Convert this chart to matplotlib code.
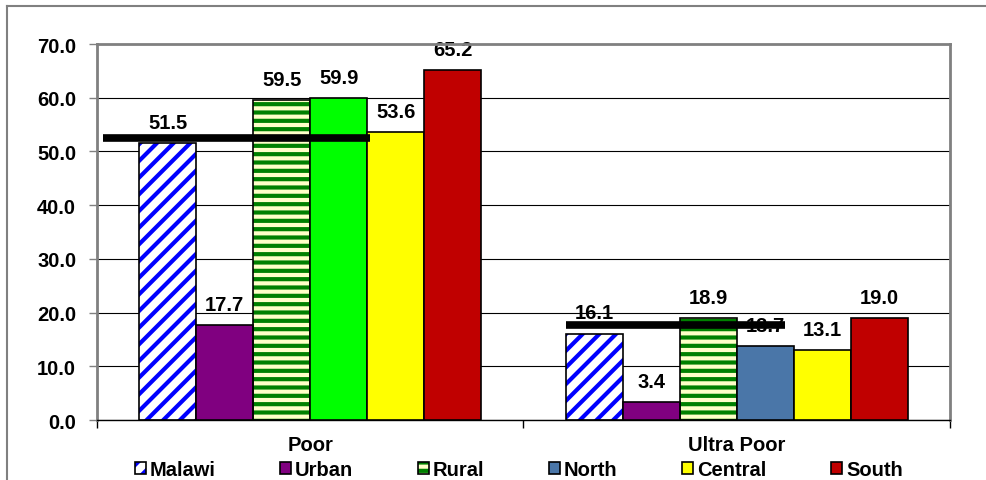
import numpy as np
import matplotlib
matplotlib.use("Agg")
import matplotlib.pyplot as plt
from matplotlib.patches import Patch
from matplotlib.lines import Line2D

# data
groups = ["Poor", "Ultra Poor"]
series = ["Malawi", "Urban", "Rural", "North", "Central", "South"]
malawi = [51.5, 16.1]
urban = [17.7, 3.4]
rural = [59.5, 18.9]
north = [59.9, 13.7]
central = [53.6, 13.1]
south = [65.2, 19.0]

# thick black reference lines (value, start, end relative to group centre)
ref_values = [52.5, 17.6]
ref_start = [-0.486, -0.40]
ref_end = [0.140, 0.113]

plt.rcParams["font.family"] = ["Liberation Sans", "DejaVu Sans"]
plt.rcParams["font.weight"] = "bold"
plt.rcParams["hatch.linewidth"] = 3.0

fs = 14.5

fig = plt.figure(figsize=(9.86, 4.81), dpi=100)
ax = fig.add_axes([0.0984, 0.1247, 0.865, 0.7817])

values = [malawi, urban, rural, north, central, south]
faces = ["white", "#800080", "#FFFFC8", None, "#FFFF00", "#C00000"]
north_faces = ["#00FF00", "#4A76A8"]
hatches = ["//", None, "--", None, None, None]
hatch_cols = ["#0000FF", None, "#008000", None, None, None]

x = np.arange(len(groups))
w = 0.1336
handles = []
for i, name in enumerate(series):
    pos = x + (i - 2.5) * w
    vals = values[i]
    if name == "North":
        fc = north_faces
    else:
        fc = [faces[i]] * len(groups)
    if hatches[i]:
        ax.bar(pos, vals, w, color=fc, edgecolor=hatch_cols[i], hatch=hatches[i],
               linewidth=0, zorder=2)
        ax.bar(pos, vals, w, fill=False, edgecolor="black", linewidth=1.2, zorder=3)
        h = (Patch(facecolor=fc[0], edgecolor=hatch_cols[i], hatch=hatches[i], linewidth=0),
             Patch(fill=False, edgecolor="black", linewidth=1.2))
    else:
        ax.bar(pos, vals, w, color=fc, edgecolor="black", linewidth=1.2, zorder=3)
        lc = "#4A76A8" if name == "North" else fc[0]
        h = Patch(facecolor=lc, edgecolor="black", linewidth=1.2)
    handles.append(h)
    for px, v in zip(pos, vals):
        ax.annotate(f"{v:.1f}", (px, v), xytext=(0, 8), textcoords="offset points",
                    ha="center", va="bottom", fontsize=fs, fontweight="bold", zorder=1)

for g in range(len(groups)):
    ax.plot([x[g] + ref_start[g], x[g] + ref_end[g]], [ref_values[g]] * 2,
            color="black", lw=5.5, solid_capstyle="butt", zorder=5)

ax.set_xlim(-0.5, 1.5)
ax.set_ylim(0, 70)
ax.set_yticks(np.arange(0, 71, 10))
ax.set_yticklabels([f"{t:.1f}" for t in np.arange(0, 71, 10)], fontsize=fs, fontweight="bold")
ax.set_xticks(x)
ax.set_xticklabels(groups, fontsize=fs, fontweight="bold")
ax.set_xticks([-0.5, 0.5, 1.5], minor=True)
ax.tick_params(axis="x", which="major", length=0, pad=11)
ax.tick_params(axis="x", which="minor", length=6, width=1, color="black")
ax.tick_params(axis="y", length=6, width=1, color="#808080", pad=9)
ax.yaxis.grid(True, color="black", lw=0.8, zorder=0)
ax.set_axisbelow(True)
for s in ["left", "right", "top"]:
    ax.spines[s].set_color("#808080")
    ax.spines[s].set_linewidth(2)
ax.spines["bottom"].set_color("black")
ax.spines["bottom"].set_linewidth(1)

fig.legend(handles, series, loc="center", bbox_to_anchor=(0.526, 0.022), ncol=6,
           frameon=False, fontsize=fs, handlelength=0.55, handleheight=0.55,
           handletextpad=0.2, columnspacing=3.2, borderaxespad=0)

# outer chart border (left and top visible)
fig.add_artist(Line2D([7 / 986, 7 / 986], [0, 1 - 7 / 481], color="#808080", lw=1.5))
fig.add_artist(Line2D([7 / 986, 1], [1 - 7 / 481, 1 - 7 / 481], color="#808080", lw=1.5))

fig.savefig("out.png", dpi=100)
